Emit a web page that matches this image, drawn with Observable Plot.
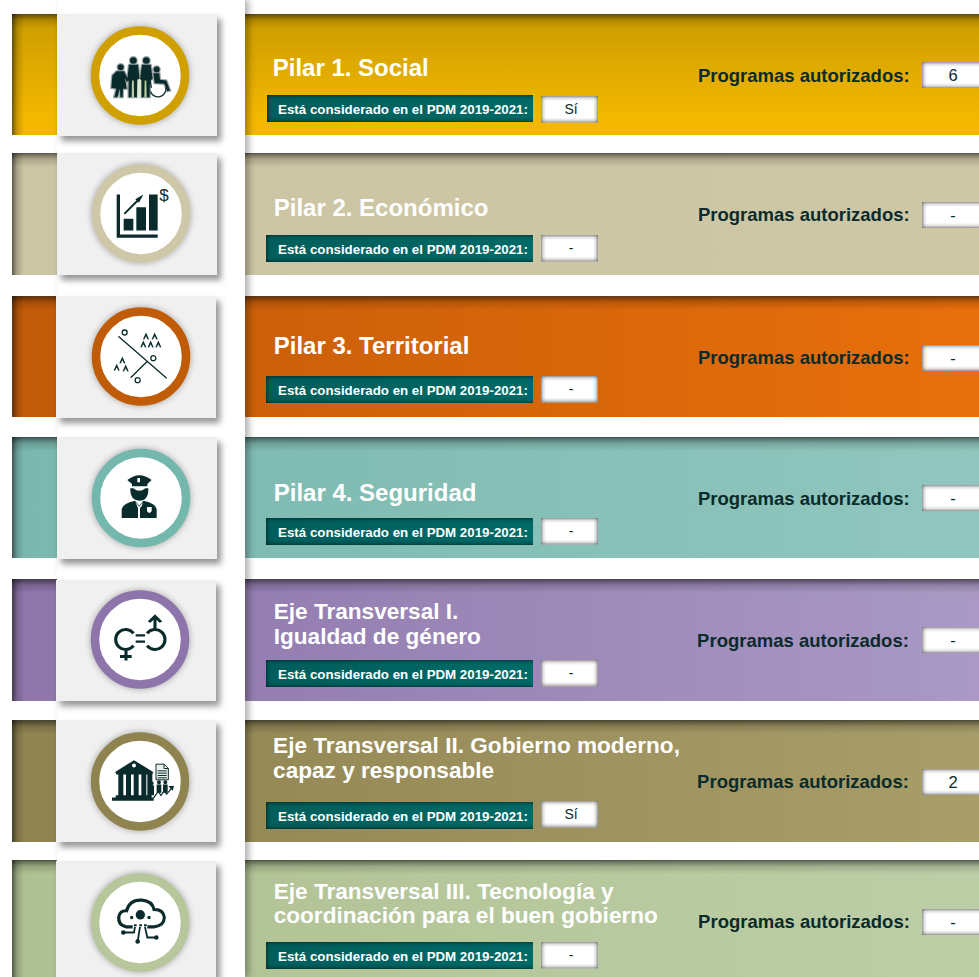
<!DOCTYPE html>
<html><head><meta charset="utf-8">
<style>html,body{margin:0;padding:0;background:#fff;overflow:hidden}svg{display:block}</style>
<script src="https://cdn.jsdelivr.net/npm/d3@7"></script>
<script src="https://cdn.jsdelivr.net/npm/@observablehq/plot@0.6"></script>
</head><body><div id="chart"></div>
<script>
// ---- content ----
const titles = ["Pilar 1. Social","Pilar 2. Económico","Pilar 3. Territorial","Pilar 4. Seguridad",
  "Eje Transversal I.\nIgualdad de género","Eje Transversal II. Gobierno moderno,\ncapaz y responsable",
  "Eje Transversal III. Tecnología y\ncoordinación para el buen gobierno"];
const enPDM = ["Sí","-","-","-","-","Sí","-"];
const programas = ["6","-","-","-","-","2","-"];
const pdmLabel = "Está considerado en el PDM 2019-2021:";
const progLabel = "Programas autorizados:";
// ---- colours ----
const bandFrom = ["#cf9f00","#cbc5a3","#c25b09","#7ab8af","#8e75ab","#8f8350","#afc191"];
const bandTo   = ["#f3b700","#cdc7a6","#e86f0b","#90c6bd","#a999c4","#a89e6a","#bdcea7"];
const bandVertical = [1,0,0,0,0,0,0];
const ringColor = ["#d0a000","#cfc8a8","#c05c08","#74b7ad","#8d75ab","#8f8350","#b7c79b"];
const dark = "#0a2b2b";
// ---- layout ----
const bandTop = [14,153,296,437,579,720,860], bandBot = [135,275,417,558,701,842,977];
const boxX1 = [57,57,56,57,56,56,56], boxX2 = [217,217,216,217,216,216,216];
const boxTop = [14,153,296,437,580,720,861], boxBot = [136,275,418,559,701,842,977];
const ringX = [139.5,140.5,140.5,140.5,139.5,139.5,139.5], ringY = [75,213,356,497.5,639,781,922];
const titleX = [272.2,273.2,273.2,273.2,273.2,272.6,273.2], titleY = [67.5,207.5,345.5,492.5,623,757.2,902.5];
const titleSize = [24,24,24,24,22.6,22.6,22.6];
const pillX = [267,266,266,266,266,266,266], pillTop = [95,235,376,518,660,802,942];
const yesX = [541,541,541,541,541,541,541], yesTop = [96,235,376,518,660,801,942];
const labelX = [697.4,697.4,697.4,697.4,696.6,696.6,697.6], labelY = [76,215,358,499,641,782,922];
const progTop = [62,202,345,485,627,769,909];

const rows = titles.map((t,i)=>({i,t,yes:enPDM[i],prog:programas[i],fs:titleSize[i],
  y1:bandTop[i],y2:bandBot[i],bx1:boxX1[i],bx2:boxX2[i],by1:boxTop[i],by2:boxBot[i],
  rx:ringX[i],ry:ringY[i],ring:ringColor[i],tx:titleX[i],ty:titleY[i],
  px:pillX[i],py:pillTop[i],yx:yesX[i],yy:yesTop[i],lx:labelX[i],ly:labelY[i],gy:progTop[i],
  fill:`url(#band${i})`}));

// ---- gradients ----
function defs(){
  const d = d3.create("svg:defs");
  rows.forEach(r=>{
    const v = bandVertical[r.i];
    const g = d.append("linearGradient").attr("id",`band${r.i}`)
      .attr("x1",0).attr("y1",0).attr("x2",v?0:1).attr("y2",v?1:0);
    g.append("stop").attr("offset",v?"0.1":"0").attr("stop-color",bandFrom[r.i]);
    g.append("stop").attr("offset",v?"0.85":"1").attr("stop-color",bandTo[r.i]);
  });
  const dirs = {T:[0,0,0,1],L:[0,0,1,0],R:[1,0,0,0],B:[0,1,0,0]};
  for (const [k,[a,b,c,e]] of Object.entries(dirs)) for (const [n,col,op] of [["S","#000",.52],["P","#000",.38],["W","#666",.7]]) {
    const g = d.append("linearGradient").attr("id",n+k).attr("x1",a).attr("y1",b).attr("x2",c).attr("y2",e);
    g.append("stop").attr("offset",0).attr("stop-color",col).attr("stop-opacity",op);
    g.append("stop").attr("offset",.45).attr("stop-color",col).attr("stop-opacity",op*.3);
    g.append("stop").attr("offset",1).attr("stop-color",col).attr("stop-opacity",0);
  }
  const p = d.append("linearGradient").attr("id","pill").attr("x1",0).attr("y1",0).attr("x2",1).attr("y2",0);
  p.append("stop").attr("offset",0).attr("stop-color","#005e5c");
  p.append("stop").attr("offset",1).attr("stop-color","#006a66");
  return d.node();
}
const rect = (data,o)=>Plot.rect(data,{...o});
function inset(data,x1,x2,y1,y2,dep,kind,sides="TL"){
  const m=[];
  if(sides.includes("T")) m.push(rect(data,{x1,x2,y1,y2:d=>y1(d)+dep,fill:`url(#${kind}T)`}));
  if(sides.includes("B")) m.push(rect(data,{x1,x2,y1:d=>y2(d)-dep,y2,fill:`url(#${kind}B)`}));
  if(sides.includes("L")) m.push(rect(data,{x1,x2:d=>x1(d)+dep,y1,y2,fill:`url(#${kind}L)`}));
  if(sides.includes("R")) m.push(rect(data,{x1:d=>x2(d)-dep,x2,y1,y2,fill:`url(#${kind}R)`}));
  return m;
}

// ---- icon glyphs (drawn around the ring centre, in 1/3 px of the zoom grid) ----
function tool(ctx,cx,cy){const s=1/3,X=x=>(x-cx)*s,Y=y=>(y-cy)*s;return {
  M(x,y){ctx.moveTo(X(x),Y(y));return this},L(x,y){ctx.lineTo(X(x),Y(y));return this},
  Z(){ctx.closePath();return this},
  O(x,y,r,a0=0,a1=Math.PI*2){ctx.moveTo(X(x)+r*s*Math.cos(a0),Y(y)+r*s*Math.sin(a0));ctx.arc(X(x),Y(y),r*s,a0,a1);return this},
  Q(x1,y1,x,y){ctx.quadraticCurveTo(X(x1),Y(y1),X(x),Y(y));return this},
  R(x,y,w,h){return this.M(x,y).L(x+w,y).L(x+w,y+h).L(x,y+h).Z()}};}
const glyph=(cx,cy,f)=>({draw(ctx){f(tool(ctx,cx,cy))}});
const rad=Math.PI/180;
const people=t=>{
    t.O(360,200,9);t.M(348,212).L(370,212).L(384,240).L(378,244).L(373,232).L(378,265).L(367,265).L(366,290).L(359,290).L(358,265).L(350,290).L(341,290).L(347,265).L(332,262).L(335,225).Z();
    t.O(398,180,10);t.M(385,193).L(412,193).L(417,235).L(410,238).L(409,290).L(400,290).L(399,240).L(394,240).L(393,290).L(384,290).L(384,240).L(380,235).Z();
    t.O(437,180,10);t.M(424,193).L(450,193).L(456,235).L(448,240).L(447,290).L(438,290).L(437,240).L(432,240).L(431,290).L(422,290).L(422,240).L(418,235).Z();
    t.O(468,207,9);t.M(458,218).L(476,218).L(478,238).L(497,240).L(508,270).L(500,272).L(491,250).L(462,248).Z();
};
const layers=[
 // 0 social
 [{g:glyph(418,225,people),stroke:"#9fa8a8",sw:2.4,fill:"#fff"},
  {g:glyph(418,225,t=>{t.R(385,228,56,62)}),fill:"#b9cf9e"},
  {g:glyph(418,225,t=>{t.R(398,228,30,62)}),fill:"#dfe8d0"},
  {g:glyph(418,225,people),fill:dark},
  {g:glyph(418,225,t=>{t.O(472,265,24,-10*rad,160*rad);t.M(448,235).L(452,262)}),stroke:dark,sw:1.3}],
 // 1 economy
 [{g:glyph(243,189,t=>{t.R(170,132,10,130);t.R(170,252,123,10);t.R(191,205,29,35);t.R(229,170,29,70);t.R(267,132,26,108);
    t.M(250,132).L(237,157).L(226,146).Z()}),fill:dark},
  {g:glyph(243,189,t=>{t.M(193,190).L(236,147)}),stroke:dark,sw:2}],
 // 2 territory
 [{g:glyph(243,618,t=>{t.M(175,557).L(320,683);t.M(262,632).L(212,682);
    t.O(194,546,7.5);t.O(280,623,7.5);t.O(233,689,7.5)}),stroke:dark,sw:1.3},
  {g:glyph(243,618,t=>{for(const [x,y] of [[258,556],[284,556],[250,580],[272,580],[295,580],[187,628],[170,650],[197,652]]){
      t.M(x-9,y+10).L(x,y-10).L(x+9,y+10).L(x+5,y+11).L(x,y+1).L(x-5,y+11).Z()}}),fill:dark}],
 // 3 security
 [{g:glyph(243,172,t=>{
    t.M(202,118).Q(238,90,275,118).L(262,130).L(262,137).L(216,137).L(216,130).Z();
    t.M(211,143).L(220,143).Q(238,158,256,143).L(265,143).Q(266,180,238,180).Q(209,180,211,143).Z();
    t.M(185,232).L(185,205).Q(188,188,225,180).L(238,195).L(250,180).Q(288,188,290,205).L(290,232).Z();
  }),fill:dark},
  {g:glyph(243,172,t=>{t.R(232,112,8,13);t.M(226,184).L(238,198).L(249,184).L(245,197).L(240,202).L(240,232).L(234,232).L(234,202).Z();
    t.M(261,199).L(275,199).L(275,212).L(268,218).L(261,212).Z()}),fill:"#fff"}],
 // 4 gender
 [{g:glyph(240,597,t=>{t.O(197,597,30,38*rad,322*rad);t.O(285,597,30,-142*rad,142*rad);
    t.M(198,627).L(198,660);t.M(180,648).L(215,648);t.M(285,567).L(285,530)}),stroke:dark,sw:3.1},
  {g:glyph(240,597,t=>{t.R(227,581,28,7);t.R(227,600,28,7);t.M(263,543).L(285,521).L(307,543).L(299,547).L(285,534).L(271,547).Z()}),fill:dark}],
 // 5 government
 [{g:glyph(240,182,t=>{t.M(163,155).L(222,118).L(282,155).Z();t.R(168,155,110,6);
    for(const x of [175,198,221,244,262]) t.R(x,161,15,62);
    t.R(167,223,108,7);t.R(156,230,125,10);
    t.O(275,187,6);t.O(297,184,6);t.O(316,184,6);
    t.R(269,193,13,30);t.R(290,191,14,25);t.R(309,191,14,25);
    t.M(342,195).L(325,196).L(338,210).Z();}),fill:dark},
  {g:glyph(240,182,t=>{t.O(222,134,6)}),fill:"#fff"},
  {g:glyph(240,182,t=>{t.M(288,130).L(312,130).L(325,143).L(325,177).L(288,177).Z();
    t.M(312,130).L(312,143).L(325,143);}),stroke:dark,sw:1,fill:"#e9efe9"},
  {g:glyph(240,182,t=>{t.M(293,150).L(320,150);t.M(293,157).L(320,157);t.M(293,164).L(320,164);t.M(293,171).L(320,171)}),stroke:dark,sw:1},
  {g:glyph(240,182,t=>{t.M(280,232).L(295,212).L(303,224).L(312,210).L(320,220).L(336,201)}),stroke:dark,sw:1.2}],
 // 6 technology
 [{g:glyph(240,605,t=>{t.M(218,618).L(198,618).Q(172,612,177,585).Q(182,568,200,570).Q(208,536,245,538).Q(276,540,282,566).Q(310,565,313,590).Q(312,615,282,618).L(262,618)}),stroke:dark,sw:3.1},
  {g:glyph(240,605,t=>{t.O(241,582,14);t.O(215,590,5);t.O(267,590,5);t.O(190,635,7);t.O(233,662,7);t.O(289,650,7);
    t.R(222,610,8,6);t.R(238,610,8,6);t.R(252,610,8,6)}),fill:dark},
  {g:glyph(240,605,t=>{t.M(190,635).L(222,635).L(225,618);t.M(233,662).L(240,618);t.M(289,650).L(262,650).L(255,618)}),stroke:dark,sw:1.8}],
];
const iconMarks = layers.flatMap((ls,i)=>ls.map(l=>Plot.dot([rows[i]],{x:"rx",y:"ry",symbol:l.g,r:5,
  fill:l.fill??"none",stroke:l.stroke??"none",strokeWidth:l.sw??0,strokeLinecap:"butt"})));

// ---- chart ----
const serif="'Liberation Sans',Arial,sans-serif";
const bx1=()=>12,bx2=()=>979,by1=d=>d.y1,by2=d=>d.y2;
const chart = Plot.plot({
  width:979,height:977,margin:0,style:{background:"#fff"},
  x:{domain:[0,979],range:[0,979],axis:null},
  y:{domain:[0,977],range:[0,977],axis:null},
  color:{type:"identity"},
  marks:[
    defs,
    rect(rows,{x1:bx1,x2:bx2,y1:by1,y2:by2,fill:"fill"}),
    rect(rows,{x1:bx1,x2:bx2,y1:by1,y2:d=>d.y1+1,fill:"#8a8a8a",fillOpacity:.4}),
    rect(rows,{x1:bx1,x2:d=>12.7,y1:by1,y2:by2,fill:"#999",fillOpacity:.5}),
    ...inset(rows,bx1,bx2,by1,by2,14,"S","T"),
    ...inset(rows,bx1,d=>245,by1,by2,12,"S","L"),
    rect([{}],{x1:()=>57,x2:()=>245,y1:()=>0,y2:()=>977,fill:"#fff",imageFilter:"drop-shadow(4px 0 3px rgba(0,0,0,.3))"}),
    rect(rows,{x1:"bx1",x2:"bx2",y1:"by1",y2:"by2",fill:"#f0f0f0",imageFilter:"drop-shadow(4px 5px 3px rgba(0,0,0,.42))"}),
    Plot.dot(rows,{x:"rx",y:"ry",r:51,fill:"#777",fillOpacity:.4,imageFilter:"blur(2.5px)"}),
    Plot.dot(rows,{x:"rx",y:"ry",r:45,fill:"#fff",stroke:"ring",strokeWidth:8.5}),
    ...iconMarks,
    // "$" of the economic icon
    Plot.text([rows[1]],{x:d=>d.rx+23,y:d=>d.ry-18,text:()=>"$",fontSize:17,fill:dark,fontFamily:serif,textAnchor:"middle"}),
    // titles
    Plot.text(rows,{x:"tx",y:"ty",text:"t",fill:"#fff",fontSize:"fs",fontWeight:"bold",fontFamily:serif,textAnchor:"start",lineHeight:1.09}),
    // PDM pill
    rect(rows,{x1:"px",x2:()=>533,y1:"py",y2:d=>d.py+27,fill:"url(#pill)"}),
    ...inset(rows,d=>d.px,()=>533,d=>d.py,d=>d.py+27,5,"P","TLB"),
    Plot.text(rows,{x:()=>277.6,y:d=>d.py+14,text:()=>pdmLabel,fill:"#fff",fontSize:13.3,fontWeight:"bold",fontFamily:serif,textAnchor:"start"}),
    // PDM value
    rect(rows,{x1:"yx",x2:()=>598,y1:"yy",y2:d=>d.yy+26.5,fill:"#fff"}),
    ...inset(rows,d=>d.yx,()=>598,d=>d.yy,d=>d.yy+26.5,5,"W","TLBR"),
    Plot.text(rows,{x:()=>570.5,y:d=>d.yy+13.5,text:"yes",fill:dark,fontSize:14,fontFamily:serif,textAnchor:"middle"}),
    // programmes
    Plot.text(rows,{x:"lx",y:"ly",text:()=>progLabel,fill:dark,fontSize:18.5,fontWeight:"bold",fontFamily:serif,textAnchor:"start"}),
    rect(rows,{x1:()=>922,x2:()=>979,y1:"gy",y2:d=>d.gy+26,fill:"#fff"}),
    ...inset(rows,()=>922,()=>979,d=>d.gy,d=>d.gy+26,5,"W","TLB"),
    Plot.text(rows,{x:()=>952.5,y:d=>d.gy+13,text:"prog",fill:dark,fontSize:16.5,fontFamily:serif,textAnchor:"middle"}),
  ]
});
document.getElementById("chart").append(chart);
</script></body></html>
